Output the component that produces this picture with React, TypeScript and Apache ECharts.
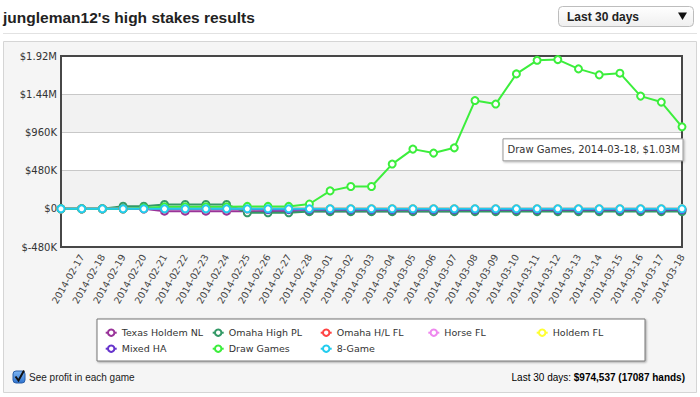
import React, { useEffect, useRef } from "react";
import * as echarts from "echarts";

const dates = [
  "2014-02-16", "2014-02-17", "2014-02-18", "2014-02-19", "2014-02-20", "2014-02-21",
  "2014-02-22", "2014-02-23", "2014-02-24", "2014-02-25", "2014-02-26", "2014-02-27",
  "2014-02-28", "2014-03-01", "2014-03-02", "2014-03-03", "2014-03-04", "2014-03-05",
  "2014-03-06", "2014-03-07", "2014-03-08", "2014-03-09", "2014-03-10", "2014-03-11",
  "2014-03-12", "2014-03-13", "2014-03-14", "2014-03-15", "2014-03-16", "2014-03-17",
  "2014-03-18",
];

const seriesNames = [
  "Texas Holdem NL", "Omaha High PL", "Omaha H/L FL", "Horse FL",
  "Holdem FL", "Mixed HA", "Draw Games", "8-Game",
];

const texasHoldemNL = [
  0, 0, 0, 0, 0, -30000, -30000, -30000, -30000, -30000, -30000, -30000, -30000, -30000, -30000,
  -30000, -30000, -30000, -30000, -30000, -15000, -15000, -15000, -15000, -15000, -15000, -15000,
  -15000, -15000, -15000, -15000,
];
const omahaHighPL = [
  0, 0, 0, 33000, 33000, 55000, 55000, 55000, 55000, -50000, -50000, -50000, -35000, -35000, -35000,
  -35000, -35000, -35000, -35000, -35000, -35000, -35000, -35000, -35000, -35000, -35000, -35000,
  -35000, -35000, -35000, -35000,
];
const omahaHLFL = [
  0, 0, 0, 0, 0, 0, 0, 0, 0, 0, 0, 0, 0, 0, 0, 0, 0, 0, 0, 0, -4000, -4000, -4000, -4000, -4000,
  -4000, -4000, -4000, -4000, -4000, -4000,
];
const horseFL = [
  0, 0, 0, 0, 0, 0, 0, 0, 0, 0, 0, 0, 0, 0, 0, 0, 0, 0, 0, 0, 3000, 3000, 3000, 3000, 3000, 3000,
  3000, 3000, 3000, 3000, 3000,
];
const holdemFL = [
  0, 0, 0, 0, 0, 0, 0, 0, 0, 0, 0, 0, 0, 0, 0, 0, 0, 0, 0, 0, 0, 0, 0, 0, 0, 0, 0, 0, 0, 0, 0,
];
const mixedHA = [
  0, 0, 0, 0, 0, 0, 0, 0, 0, 0, -10000, -10000, -10000, -10000, -10000, -10000, -10000, -10000,
  -10000, -10000, -10000, -10000, -10000, -10000, -10000, -10000, -10000, -10000, -10000, -10000,
  -10000,
];
const drawGames = [
  0, 0, 0, 0, 10000, 25000, 25000, 25000, 25000, 30000, 30000, 30000, 60000, 225000, 280000,
  280000, 562000, 750000, 700000, 766000, 1360000, 1316000, 1695000, 1866000, 1875000, 1758000,
  1683000, 1704000, 1416000, 1341000, 1030000,
];
const eightGame = [
  0, 0, 0, 0, 0, 0, 0, 0, 0, 0, 0, 0, 0, 0, 0, 0, 0, 0, 0, 0, 0, 0, 0, 0, 0, 0, 0, 0, 0, 0, 0,
];

const seriesValues = [texasHoldemNL, omahaHighPL, omahaHLFL, horseFL, holdemFL, mixedHA, drawGames, eightGame];
const seriesColors = ["#993399", "#339966", "#ff4444", "#ee88ee", "#ffff33", "#6633cc", "#3cee3c", "#22ccee"];

const yMin = -480000;
const yMax = 1920000;
const yInterval = 480000;

const titleText = "jungleman12's high stakes results";
const rangeText = "Last 30 days";
const checkboxText = "See profit in each game";
const totalLabel = "Last 30 days: ";
const totalValue = "$974,537 (17087 hands)";

const fmtMoney = (v: number) => {
  if (v === 0) return "$0";
  if (Math.abs(v) >= 1e6) return "$" + +(v / 1e6).toFixed(2) + "M";
  return "$" + Math.round(v / 1000) + "K";
};

// legend layout: text start x per column, row centre y
const legendCols = [120.7, 227.7, 335.7, 443.3, 551.7];
const legendRows = [331.7, 347.7];

export default function App() {
  const ref = useRef<HTMLDivElement>(null);

  useEffect(() => {
    if (!ref.current) return;
    const chart = echarts.init(ref.current, undefined, { renderer: "svg" });

    const itemW = 11;
    const itemH = 8;
    const legends = seriesNames.map((name, i) => {
      const col = i < 5 ? i : i - 5;
      const row = i < 5 ? 0 : 1;
      return {
        data: [name],
        left: legendCols[col] - itemW - 5,
        top: legendRows[row] - itemH / 2,
        padding: 0,
        itemWidth: itemW,
        itemHeight: itemH,
        itemGap: 0,
        textStyle: { fontFamily: "DejaVu Sans", fontSize: 9.5, color: "#333" },
        selectedMode: true,
      };
    });

    chart.setOption({
      animation: false,
      backgroundColor: "#ffffff",
      legend: legends,
      grid: {
        left: 61,
        right: 18,
        top: 56,
        bottom: 150,
        show: true,
        borderColor: "#474747",
        borderWidth: 2,
        backgroundColor: "transparent",
        z: 1,
      },
      xAxis: {
        type: "category",
        data: dates,
        boundaryGap: false,
        axisLine: { show: false },
        axisTick: { show: false },
        splitLine: { show: false },
        axisLabel: {
          interval: (idx: number) => idx > 0,
          rotate: 60,
          margin: 8,
          fontFamily: "DejaVu Sans",
          fontSize: 9.5,
          color: "#444",
        },
      },
      yAxis: {
        type: "value",
        min: yMin,
        max: yMax,
        interval: yInterval,
        axisLine: { show: false },
        axisTick: { show: false },
        splitLine: { show: true, lineStyle: { color: "#c8c8c8", width: 1 } },
        splitArea: { show: true, areaStyle: { color: ["#ffffff", "#f2f2f2"] } },
        axisLabel: {
          formatter: fmtMoney,
          margin: 4,
          fontFamily: "DejaVu Sans",
          fontSize: 10,
          color: "#333",
        },
      },
      series: seriesNames.map((name, i) => ({
        name,
        type: "line",
        data: seriesValues[i],
        symbol: "emptyCircle",
        symbolSize: 7,
        showSymbol: true,
        showAllSymbol: true,
        color: seriesColors[i],
        lineStyle: { width: 2, color: seriesColors[i] },
        itemStyle: { color: seriesColors[i], borderWidth: 1.5 },
        emphasis: { disabled: true },
        z: 3,
      })),
    });

    const last = dates.length - 1;
    const dgIndex = seriesNames.indexOf("Draw Games");
    const pt = chart.convertToPixel({ seriesIndex: dgIndex }, [last, drawGames[last]]) as number[];
    const tipText = `${seriesNames[dgIndex]}, ${dates[last]}, ${fmtMoney(drawGames[last])}`;
    const tipX = pt[0] - 179;
    const tipY = pt[1] + 12;

    chart.setOption({
      graphic: {
        elements: [
          {
            type: "rect",
            z: -10,
            shape: { x: 3.5, y: 41.5, width: 693, height: 351 },
            style: { fill: "#f5f5f5", stroke: "#d5d5d5", lineWidth: 1 },
          },
          {
            type: "text",
            x: 3,
            y: 17.5,
            style: {
              text: titleText,
              fill: "#222",
              font: "bold 15.5px 'Liberation Sans', Arial, sans-serif",
              verticalAlign: "middle",
            },
          },
          {
            type: "line",
            shape: { x1: 3, y1: 33.5, x2: 697, y2: 33.5 },
            style: { stroke: "#e2e2e2", lineWidth: 1 },
          },
          {
            type: "rect",
            shape: { x: 558.5, y: 6.5, width: 135, height: 20, r: 4 },
            style: {
              fill: new echarts.graphic.LinearGradient(0, 0, 0, 1, [
                { offset: 0, color: "#ffffff" },
                { offset: 1, color: "#efefef" },
              ]),
              stroke: "#bdbdbd",
              lineWidth: 1,
            },
          },
          {
            type: "text",
            x: 567,
            y: 16.5,
            style: {
              text: rangeText,
              fill: "#222",
              font: "bold 12px 'Liberation Sans', Arial, sans-serif",
              verticalAlign: "middle",
            },
          },
          {
            type: "polygon",
            shape: { points: [[678, 12.5], [687, 12.5], [682.5, 20]] },
            style: { fill: "#111" },
          },
          {
            type: "rect",
            z: -5,
            shape: { x: 97, y: 319, width: 548, height: 42 },
            style: {
              fill: "#ffffff",
              stroke: "#777",
              lineWidth: 1,
              shadowBlur: 2,
              shadowOffsetX: 1,
              shadowOffsetY: 1,
              shadowColor: "rgba(0,0,0,0.35)",
            },
          },
          {
            type: "rect",
            shape: { x: 13, y: 371, width: 12, height: 12, r: 3 },
            style: {
              fill: new echarts.graphic.LinearGradient(0, 0, 0, 1, [
                { offset: 0, color: "#7db5f2" },
                { offset: 1, color: "#2f74d0" },
              ]),
              stroke: "#2b5fa8",
              lineWidth: 1,
            },
          },
          {
            type: "polyline",
            shape: { points: [[15.5, 376.5], [18.5, 380.5], [24, 370.5]] },
            style: { stroke: "#111", lineWidth: 2, fill: "none" },
          },
          {
            type: "text",
            x: 29,
            y: 377.5,
            style: {
              text: checkboxText,
              fill: "#222",
              font: "10px 'Liberation Sans', Arial, sans-serif",
              verticalAlign: "middle",
            },
          },
          {
            type: "text",
            x: 685,
            y: 377.5,
            style: {
              text: `{a|${totalLabel}}{b|${totalValue}}`,
              align: "right",
              verticalAlign: "middle",
              rich: {
                a: { fontFamily: "Liberation Sans", fontSize: 10, color: "#222" },
                b: { fontFamily: "Liberation Sans", fontSize: 10, fontWeight: "bold", color: "#222" },
              },
            },
          },
          {
            type: "rect",
            z: 50,
            shape: { x: tipX, y: tipY, width: 180, height: 22 },
            style: {
              fill: "#ffffff",
              stroke: "#999",
              lineWidth: 1,
              shadowBlur: 2,
              shadowOffsetX: 1,
              shadowOffsetY: 1,
              shadowColor: "rgba(0,0,0,0.3)",
            },
          },
          {
            type: "text",
            z: 51,
            x: tipX + 4.5,
            y: tipY + 11,
            style: {
              text: tipText,
              fill: "#333",
              font: "10px 'DejaVu Sans', Verdana, sans-serif",
              verticalAlign: "middle",
            },
          },
        ],
      },
    });

    return () => chart.dispose();
  }, []);

  return (
    <div
      ref={ref}
      style={{ position: "fixed", left: 0, top: 0, width: 700, height: 397, background: "#fff" }}
    />
  );
}
